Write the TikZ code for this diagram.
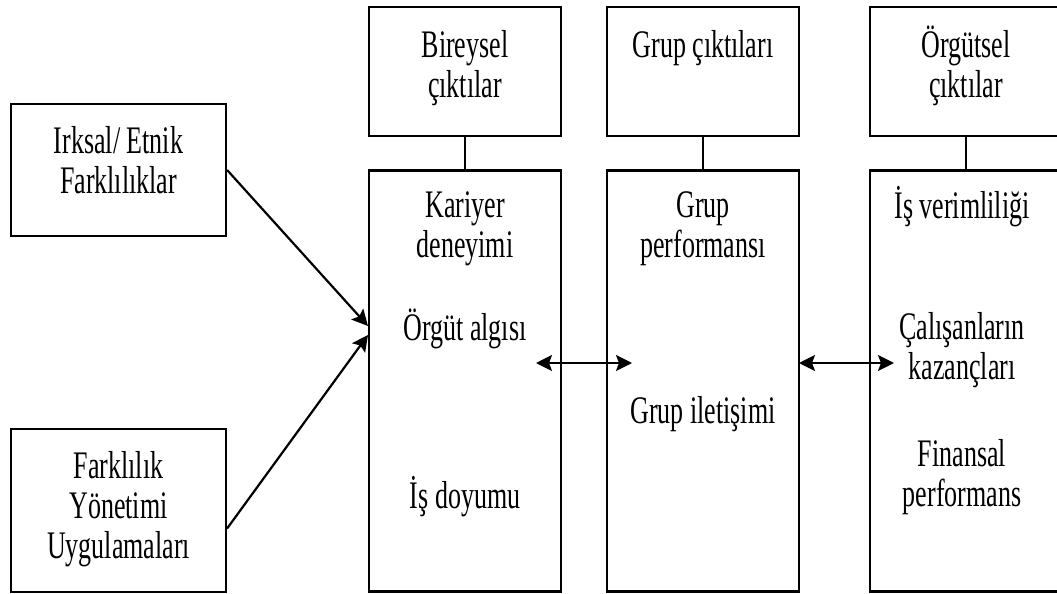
\documentclass[tikz,border=0pt]{standalone}
\usepackage{fontspec}
\usepackage{graphicx}
\setmainfont{Liberation Serif}
\usetikzlibrary{arrows.meta}

% Tall, narrow text block: lines centred, first baseline is the box baseline
\newcommand\tallstack[1]{\scalebox{1}[1.5]{\begin{tabular}[t]{@{}c@{}}#1\end{tabular}}}

\tikzset{
  box/.style={draw, line width=2.2pt, inner sep=0pt},
  lbl/.style={inner sep=0pt, anchor=base, font=\fontsize{26}{26.7}\selectfont},
  link/.style={line width=2.2pt},
  tip/.tip={Stealth[length=16pt,width=16pt,inset=3pt]},
  arr/.style={line width=2.2pt, -tip},
  biarr/.style={line width=2.2pt, tip-tip},
}

\begin{document}
\begin{tikzpicture}[x=1pt, y=-1pt]
\useasboundingbox (0,0) rectangle (1057,594);
\clip (0,0) rectangle (1057,594);

% left column: sources of diversity
\node[box, minimum width=215pt, minimum height=132pt] (irk) at (118.5,170) {};
\node[box, minimum width=215pt, minimum height=163pt] (fy) at (118.5,510.5) {};
\node[lbl] (irkT) at (118.5,153) {\tallstack{Irksal/ Etnik\\Farklılıklar}};
\node[lbl] (fyT) at (118.5,478) {\tallstack{Farklılık\\Yönetimi\\Uygulamaları}};

% outcome headers
\node[box, minimum width=192pt, minimum height=129pt] (bh) at (465,71.5) {};
\node[box, minimum width=192pt, minimum height=129pt] (gh) at (703,71.5) {};
\node[box, minimum width=192pt, minimum height=129pt] (oh) at (966,71.5) {};
\node[lbl] (bhT) at (465,57) {\tallstack{Bireysel\\çıktılar}};
\node[lbl] (ghT) at (703,57) {\tallstack{Grup çıktıları}};
\node[lbl] (ohT) at (966,57) {\tallstack{Örgütsel\\çıktılar}};

% outcome bodies
\node[box, minimum width=192pt, minimum height=421pt] (bb) at (465,381) {};
\node[box, minimum width=192pt, minimum height=421pt] (gb) at (703,381) {};
\node[box, minimum width=192pt, minimum height=421pt] (ob) at (966,381) {};

\node[lbl] (b1) at (465,217) {\tallstack{Kariyer\\deneyimi}};
\node[lbl] (b2) at (465,340) {\tallstack{Örgüt algısı}};
\node[lbl] (b3) at (465,508) {\tallstack{İş doyumu}};

\node[lbl] (g1) at (703,217) {\tallstack{Grup\\performansı}};
\node[lbl] (g2) at (703,423) {\tallstack{Grup iletişimi}};

\node[lbl] (o1) at (962,218) {\tallstack{İş verimliliği}};
\node[lbl] (o2) at (962,339) {\tallstack{Çalışanların\\kazançları}};
\node[lbl] (o3) at (962,466) {\tallstack{Finansal\\performans}};

% header-to-body links
\draw[link] (bh.south) -- (bb.north);
\draw[link] (gh.south) -- (gb.north);
\draw[link] (oh.south) -- (ob.north);

% inputs into individual outcomes
\coordinate (fyOut) at ([yshift=-18pt]fy.east);
\coordinate (inA) at (368,326);
\coordinate (inB) at (368,335);
\draw[arr] (irk.east) -- (inA);
\draw[arr] (fyOut) -- (inB);

% two-way links between outcome levels
\coordinate (bgL) at (536,363);
\coordinate (bgR) at (632,363);
\coordinate (goL) at (799,363);
\coordinate (goR) at (894,363);
\draw[biarr] (bgL) -- (bgR);
\draw[biarr] (goL) -- (goR);
\end{tikzpicture}
\end{document}
